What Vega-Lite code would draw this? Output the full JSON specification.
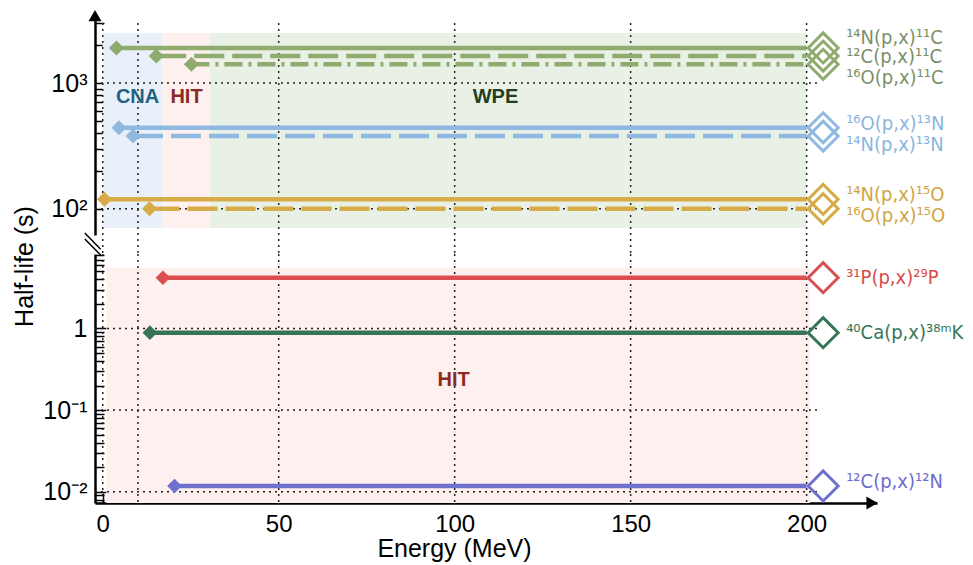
{
  "$schema": "https://vega.github.io/schema/vega-lite/v6.json",
  "width": 782,
  "height": 485,
  "autosize": {"type": "none"},
  "padding": {"left": 95, "top": 18, "right": 96, "bottom": 62},
  "background": "white",
  "config": {"view": {"stroke": null}, "font": "Liberation Sans"},
  "datasets": {
    "series": [
      {"reaction": "¹⁴N(p,x)¹¹C", "iso": "11C", "panel": "top", "E": 3.9, "E2": 200, "Emark": 204.7, "t": 1900, "style": "solid", "labelT": 2300},
      {"reaction": "¹²C(p,x)¹¹C", "iso": "11C", "panel": "top", "E": 15.2, "E2": 200, "Emark": 204.7, "t": 1640, "style": "dashed", "labelT": 1610},
      {"reaction": "¹⁶O(p,x)¹¹C", "iso": "11C", "panel": "top", "E": 25.2, "E2": 200, "Emark": 204.7, "t": 1410, "style": "dashdot", "labelT": 1105},
      {"reaction": "¹⁶O(p,x)¹³N", "iso": "13N", "panel": "top", "E": 4.6, "E2": 200, "Emark": 204.7, "t": 440, "style": "solid", "labelT": 472},
      {"reaction": "¹⁴N(p,x)¹³N", "iso": "13N", "panel": "top", "E": 8.6, "E2": 200, "Emark": 204.7, "t": 378, "style": "dashed", "labelT": 324},
      {"reaction": "¹⁴N(p,x)¹⁵O", "iso": "15O", "panel": "top", "E": 0.5, "E2": 200, "Emark": 204.7, "t": 118.6, "style": "solid", "labelT": 127.6},
      {"reaction": "¹⁶O(p,x)¹⁵O", "iso": "15O", "panel": "top", "E": 13.3, "E2": 200, "Emark": 204.7, "t": 100, "style": "dashed", "labelT": 86.8},
      {"reaction": "³¹P(p,x)²⁹P", "iso": "29P", "panel": "bottom", "E": 17.1, "E2": 200, "Emark": 204.7, "t": 4.19, "style": "solid", "labelT": 4.19},
      {"reaction": "⁴⁰Ca(p,x)³⁸ᵐK", "iso": "38mK", "panel": "bottom", "E": 13.4, "E2": 200, "Emark": 204.7, "t": 0.888, "style": "solid", "labelT": 0.888},
      {"reaction": "¹²C(p,x)¹²N", "iso": "12N", "panel": "bottom", "E": 20.4, "E2": 200, "Emark": 204.7, "t": 0.01175, "style": "solid", "labelT": 0.0133}
    ],
    "regions": [
      {"name": "CNA", "panel": "top", "E": 0, "E2": 17, "t": 70, "t2": 2500},
      {"name": "HIT", "panel": "top", "E": 17, "E2": 30.5, "t": 70, "t2": 2500},
      {"name": "WPE", "panel": "top", "E": 30.5, "E2": 200, "t": 70, "t2": 2500},
      {"name": "HIT", "panel": "bottom", "E": 1, "E2": 201, "t": 0.00727, "t2": 5.5}
    ],
    "regionLabels": [
      {"name": "CNA", "panel": "top", "E": 9.9, "t": 774},
      {"name": "HIT", "panel": "top", "E": 23.8, "t": 774},
      {"name": "WPE", "panel": "top", "E": 111.6, "t": 774},
      {"name": "HIT", "panel": "bottom", "E": 99.7, "t": 0.234}
    ],
    "hgrid": [
      {"panel": "top", "E": -2.2, "E2": 203, "t": 100},
      {"panel": "top", "E": -2.2, "E2": 203, "t": 1000},
      {"panel": "bottom", "E": -2.2, "E2": 203, "t": 1},
      {"panel": "bottom", "E": -2.2, "E2": 203, "t": 0.1},
      {"panel": "bottom", "E": -2.2, "E2": 203, "t": 0.01}
    ],
    "vgrid": [
      {"panel": "top", "E": 0, "t": 3000, "t2": 44}, {"panel": "top", "E": 10, "t": 3000, "t2": 44},
      {"panel": "top", "E": 50, "t": 3000, "t2": 44}, {"panel": "top", "E": 100, "t": 3000, "t2": 44},
      {"panel": "top", "E": 150, "t": 3000, "t2": 44}, {"panel": "top", "E": 200, "t": 3000, "t2": 44},
      {"panel": "bottom", "E": 0, "t": 8.18, "t2": 0.00727}, {"panel": "bottom", "E": 10, "t": 8.18, "t2": 0.00727},
      {"panel": "bottom", "E": 50, "t": 8.18, "t2": 0.00727}, {"panel": "bottom", "E": 100, "t": 8.18, "t2": 0.00727},
      {"panel": "bottom", "E": 150, "t": 8.18, "t2": 0.00727}, {"panel": "bottom", "E": 200, "t": 8.18, "t2": 0.00727}
    ],
    "breaks": [
      {"E": -5.1, "E2": -0.6, "t": 64, "t2": 47.6},
      {"E": -5.1, "E2": -0.6, "t": 57.3, "t2": 42.7}
    ],
    "arrows": [
      {"dir": "up", "E": -2.2, "t": 3441},
      {"dir": "right", "E": 218.6, "t": 0.00727}
    ]
  },
  "layer": [
    {
      "layer": [
        {
          "data": {"name": "regions"},
          "transform": [{"filter": "datum.panel === 'top'"}],
          "mark": {"type": "rect"},
          "encoding": {
            "x": {
              "field": "E", "type": "quantitative",
              "scale": {"domain": [-2.2, 220], "nice": false, "zero": false},
              "axis": {
                "orient": "bottom",
                "values": [10, 20, 30, 40, 60, 70, 80, 90, 110, 120, 130, 140, 160, 170, 180, 190],
                "labels": false, "domain": false, "grid": false, "title": null,
                "tickSize": -7, "tickColor": "black", "tickWidth": 1.5
              }
            },
            "x2": {"field": "E2"},
            "y": {
              "field": "t", "type": "quantitative",
              "scale": {"type": "log", "domain": [61.7, 3292], "range": [217, 0], "nice": false},
              "axis": {
                "orient": "left",
                "values": [100, 200, 300, 400, 500, 600, 700, 800, 900, 1000, 2000, 3000],
                "labelExpr": "datum.value === 100 ? '10²' : (datum.value === 1000 ? '10³' : '')",
                "tickSize": {"condition": {"test": "datum.value === 100 || datum.value === 1000", "value": -13}, "value": -9},
                "tickColor": "black", "tickWidth": 1.5,
                "domainColor": "black", "domainWidth": 2.5,
                "labelFont": "Liberation Sans", "labelFontSize": 25, "labelColor": "black",
                "labelPadding": 21, "labelOverlap": false, "labelFlush": false,
                "grid": false, "title": null
              }
            },
            "y2": {"field": "t2"},
            "fill": {"field": "name", "type": "nominal", "legend": null, "scale": {"domain": ["11C", "13N", "15O", "29P", "38mK", "12N", "CNA", "HIT", "WPE"], "range": ["#7b8f68", "#8ab5de", "#d1a544", "#d94a4a", "#367656", "#6c6ccc", "#eaf0fa", "#fdf0ee", "#e9f0e6"]}}
          }
        },
        {
          "data": {"name": "vgrid"},
          "transform": [{"filter": "datum.panel === 'top'"}],
          "mark": {"type": "rule", "strokeDash": [2, 4], "color": "#222222", "strokeWidth": 1.5},
          "encoding": {
            "x": {"field": "E", "type": "quantitative", "scale": {"domain": [-2.2, 220], "nice": false, "zero": false}},
            "y": {"field": "t", "type": "quantitative", "scale": {"type": "log", "domain": [61.7, 3292], "range": [217, 0], "nice": false}},
            "y2": {"field": "t2"}
          }
        },
        {
          "data": {"name": "hgrid"},
          "transform": [{"filter": "datum.panel === 'top'"}],
          "mark": {"type": "rule", "strokeDash": [2, 4], "color": "#222222", "strokeWidth": 1.5},
          "encoding": {
            "x": {"field": "E", "type": "quantitative", "scale": {"domain": [-2.2, 220], "nice": false, "zero": false}},
            "x2": {"field": "E2"},
            "y": {"field": "t", "type": "quantitative", "scale": {"type": "log", "domain": [61.7, 3292], "range": [217, 0], "nice": false}}
          }
        },
        {
          "data": {"name": "series"},
          "transform": [{"filter": "datum.panel === 'top'"}],
          "mark": {"type": "rule", "strokeWidth": 4.5},
          "encoding": {
            "x": {"field": "E", "type": "quantitative", "scale": {"domain": [-2.2, 220], "nice": false, "zero": false}},
            "x2": {"field": "E2"},
            "y": {"field": "t", "type": "quantitative", "scale": {"type": "log", "domain": [61.7, 3292], "range": [217, 0], "nice": false}},
            "color": {"field": "iso", "type": "nominal", "legend": null, "scale": {"domain": ["11C", "13N", "15O", "29P", "38mK", "12N", "CNA", "HIT", "WPE"], "range": ["#8fab6d", "#8fb9e1", "#d8ab49", "#db4f50", "#367656", "#7070cf", "#1f6282", "#8c2b22", "#223e20"]}},
            "strokeDash": {"field": "style", "type": "nominal", "legend": null, "scale": {"domain": ["solid", "dashed", "dashdot"], "range": [[1, 0], [30, 8], [18, 6, 3, 6]]}}
          }
        },
        {
          "data": {"name": "series"},
          "transform": [{"filter": "datum.panel === 'top'"}],
          "mark": {"type": "point", "shape": "diamond", "filled": true, "size": 225, "opacity": 1},
          "encoding": {
            "x": {"field": "E", "type": "quantitative", "scale": {"domain": [-2.2, 220], "nice": false, "zero": false}},
            "y": {"field": "t", "type": "quantitative", "scale": {"type": "log", "domain": [61.7, 3292], "range": [217, 0], "nice": false}},
            "color": {"field": "iso", "type": "nominal", "legend": null, "scale": {"domain": ["11C", "13N", "15O", "29P", "38mK", "12N", "CNA", "HIT", "WPE"], "range": ["#8fab6d", "#8fb9e1", "#d8ab49", "#db4f50", "#367656", "#7070cf", "#1f6282", "#8c2b22", "#223e20"]}}
          }
        },
        {
          "data": {"name": "series"},
          "transform": [{"filter": "datum.panel === 'top'"}],
          "mark": {"type": "point", "shape": "diamond", "filled": false, "size": 900, "strokeWidth": 3, "opacity": 1},
          "encoding": {
            "x": {"field": "Emark", "type": "quantitative", "scale": {"domain": [-2.2, 220], "nice": false, "zero": false}},
            "y": {"field": "t", "type": "quantitative", "scale": {"type": "log", "domain": [61.7, 3292], "range": [217, 0], "nice": false}},
            "color": {"field": "iso", "type": "nominal", "legend": null, "scale": {"domain": ["11C", "13N", "15O", "29P", "38mK", "12N", "CNA", "HIT", "WPE"], "range": ["#8fab6d", "#8fb9e1", "#d8ab49", "#db4f50", "#367656", "#7070cf", "#1f6282", "#8c2b22", "#223e20"]}}
          }
        },
        {
          "data": {"name": "series"},
          "transform": [{"filter": "datum.panel === 'top'"}],
          "mark": {"type": "text", "align": "left", "baseline": "middle", "dx": 23, "font": "DejaVu Sans Condensed, DejaVu Sans", "fontSize": 20},
          "encoding": {
            "x": {"field": "Emark", "type": "quantitative", "scale": {"domain": [-2.2, 220], "nice": false, "zero": false}},
            "y": {"field": "labelT", "type": "quantitative", "scale": {"type": "log", "domain": [61.7, 3292], "range": [217, 0], "nice": false}},
            "text": {"field": "reaction"},
            "fill": {"field": "iso", "type": "nominal", "legend": null, "scale": {"domain": ["11C", "13N", "15O", "29P", "38mK", "12N", "CNA", "HIT", "WPE"], "range": ["#7b8f68", "#8ab5de", "#d1a544", "#d94a4a", "#367656", "#6c6ccc", "#eaf0fa", "#fdf0ee", "#e9f0e6"]}}
          }
        },
        {
          "data": {"name": "regionLabels"},
          "transform": [{"filter": "datum.panel === 'top'"}],
          "mark": {"type": "text", "align": "center", "baseline": "middle", "font": "Liberation Sans", "fontSize": 20, "fontWeight": "bold"},
          "encoding": {
            "x": {"field": "E", "type": "quantitative", "scale": {"domain": [-2.2, 220], "nice": false, "zero": false}},
            "y": {"field": "t", "type": "quantitative", "scale": {"type": "log", "domain": [61.7, 3292], "range": [217, 0], "nice": false}},
            "text": {"field": "name"},
            "color": {"field": "name", "type": "nominal", "legend": null, "scale": {"domain": ["11C", "13N", "15O", "29P", "38mK", "12N", "CNA", "HIT", "WPE"], "range": ["#8fab6d", "#8fb9e1", "#d8ab49", "#db4f50", "#367656", "#7070cf", "#1f6282", "#8c2b22", "#223e20"]}}
          }
        },
        {
          "data": {"name": "breaks"},
          "mark": {"type": "rule", "color": "black", "strokeWidth": 1.5},
          "encoding": {
            "x": {"field": "E", "type": "quantitative", "scale": {"domain": [-2.2, 220], "nice": false, "zero": false}},
            "x2": {"field": "E2"},
            "y": {"field": "t", "type": "quantitative", "scale": {"type": "log", "domain": [61.7, 3292], "range": [217, 0], "nice": false}},
            "y2": {"field": "t2"}
          }
        },
        {
          "data": {"name": "arrows"},
          "transform": [{"filter": "datum.dir === 'up'"}],
          "mark": {"type": "point", "shape": "triangle-up", "filled": true, "color": "black", "size": 170, "opacity": 1},
          "encoding": {
            "x": {"field": "E", "type": "quantitative", "scale": {"domain": [-2.2, 220], "nice": false, "zero": false}},
            "y": {"field": "t", "type": "quantitative", "scale": {"type": "log", "domain": [61.7, 3292], "range": [217, 0], "nice": false}}
          }
        }
      ]
    },
    {
      "layer": [
        {
          "data": {"name": "regions"},
          "transform": [{"filter": "datum.panel === 'bottom'"}],
          "mark": {"type": "rect"},
          "encoding": {
            "x": {
              "field": "E", "type": "quantitative",
              "scale": {"domain": [-2.2, 220], "nice": false, "zero": false},
              "axis": {
                "orient": "bottom",
                "values": [0, 50, 100, 150, 200],
                "tickSize": -10,
                "tickColor": "black", "tickWidth": 1.5,
                "domainColor": "black", "domainWidth": 2.5,
                "labelFont": "Liberation Sans", "labelFontSize": 24, "labelColor": "black",
                "labelPadding": 19, "labelFlush": false, "labelOverlap": false,
                "grid": false,
                "title": "Energy (MeV)", "titleFont": "Liberation Sans", "titleFontSize": 25, "titleFontWeight": "normal", "titleColor": "black",
                "titleX": 359, "titleY": 45, "titleAlign": "center", "titleBaseline": "middle"
              }
            },
            "x2": {"field": "E2"},
            "y": {
              "field": "t", "type": "quantitative",
              "scale": {"type": "log", "domain": [0.00727, 8.18], "range": [485, 236], "nice": false},
              "axis": {
                "orient": "left",
                "values": [0.008, 0.009, 0.01, 0.02, 0.03, 0.04, 0.05, 0.06, 0.07, 0.08, 0.09, 0.1, 0.2, 0.3, 0.4, 0.5, 0.6, 0.7, 0.8, 0.9, 1, 2, 3, 4, 5, 6, 7, 8],
                "labelExpr": "datum.value === 1 ? '1' : (datum.value === 0.1 ? '10⁻¹' : (datum.value === 0.01 ? '10⁻²' : ''))",
                "tickSize": {"condition": {"test": "datum.value === 1 || datum.value === 0.1 || datum.value === 0.01", "value": -13}, "value": -9},
                "tickColor": "black", "tickWidth": 1.5,
                "domainColor": "black", "domainWidth": 2.5,
                "labelFont": "Liberation Sans", "labelFontSize": 25, "labelColor": "black",
                "labelPadding": 21, "labelOverlap": false, "labelFlush": false,
                "grid": false,
                "title": "Half-life (s)", "titleFont": "Liberation Sans", "titleFontSize": 25, "titleFontWeight": "normal", "titleColor": "black",
                "titleX": -71, "titleY": 248, "titleAngle": 270, "titleAlign": "center", "titleBaseline": "middle"
              }
            },
            "y2": {"field": "t2"},
            "fill": {"field": "name", "type": "nominal", "legend": null, "scale": {"domain": ["11C", "13N", "15O", "29P", "38mK", "12N", "CNA", "HIT", "WPE"], "range": ["#7b8f68", "#8ab5de", "#d1a544", "#d94a4a", "#367656", "#6c6ccc", "#eaf0fa", "#fdf0ee", "#e9f0e6"]}}
          }
        },
        {
          "data": {"name": "vgrid"},
          "transform": [{"filter": "datum.panel === 'bottom'"}],
          "mark": {"type": "rule", "strokeDash": [2, 4], "color": "#222222", "strokeWidth": 1.5},
          "encoding": {
            "x": {"field": "E", "type": "quantitative", "scale": {"domain": [-2.2, 220], "nice": false, "zero": false}},
            "y": {"field": "t", "type": "quantitative", "scale": {"type": "log", "domain": [0.00727, 8.18], "range": [485, 236], "nice": false}},
            "y2": {"field": "t2"}
          }
        },
        {
          "data": {"name": "hgrid"},
          "transform": [{"filter": "datum.panel === 'bottom'"}],
          "mark": {"type": "rule", "strokeDash": [2, 4], "color": "#222222", "strokeWidth": 1.5},
          "encoding": {
            "x": {"field": "E", "type": "quantitative", "scale": {"domain": [-2.2, 220], "nice": false, "zero": false}},
            "x2": {"field": "E2"},
            "y": {"field": "t", "type": "quantitative", "scale": {"type": "log", "domain": [0.00727, 8.18], "range": [485, 236], "nice": false}}
          }
        },
        {
          "data": {"name": "series"},
          "transform": [{"filter": "datum.panel === 'bottom'"}],
          "mark": {"type": "rule", "strokeWidth": 4.5},
          "encoding": {
            "x": {"field": "E", "type": "quantitative", "scale": {"domain": [-2.2, 220], "nice": false, "zero": false}},
            "x2": {"field": "E2"},
            "y": {"field": "t", "type": "quantitative", "scale": {"type": "log", "domain": [0.00727, 8.18], "range": [485, 236], "nice": false}},
            "color": {"field": "iso", "type": "nominal", "legend": null, "scale": {"domain": ["11C", "13N", "15O", "29P", "38mK", "12N", "CNA", "HIT", "WPE"], "range": ["#8fab6d", "#8fb9e1", "#d8ab49", "#db4f50", "#367656", "#7070cf", "#1f6282", "#8c2b22", "#223e20"]}},
            "strokeDash": {"field": "style", "type": "nominal", "legend": null, "scale": {"domain": ["solid", "dashed", "dashdot"], "range": [[1, 0], [30, 8], [18, 6, 3, 6]]}}
          }
        },
        {
          "data": {"name": "series"},
          "transform": [{"filter": "datum.panel === 'bottom'"}],
          "mark": {"type": "point", "shape": "diamond", "filled": true, "size": 215, "opacity": 1},
          "encoding": {
            "x": {"field": "E", "type": "quantitative", "scale": {"domain": [-2.2, 220], "nice": false, "zero": false}},
            "y": {"field": "t", "type": "quantitative", "scale": {"type": "log", "domain": [0.00727, 8.18], "range": [485, 236], "nice": false}},
            "color": {"field": "iso", "type": "nominal", "legend": null, "scale": {"domain": ["11C", "13N", "15O", "29P", "38mK", "12N", "CNA", "HIT", "WPE"], "range": ["#8fab6d", "#8fb9e1", "#d8ab49", "#db4f50", "#367656", "#7070cf", "#1f6282", "#8c2b22", "#223e20"]}}
          }
        },
        {
          "data": {"name": "series"},
          "transform": [{"filter": "datum.panel === 'bottom'"}],
          "mark": {"type": "point", "shape": "diamond", "filled": false, "size": 900, "strokeWidth": 3, "opacity": 1},
          "encoding": {
            "x": {"field": "Emark", "type": "quantitative", "scale": {"domain": [-2.2, 220], "nice": false, "zero": false}},
            "y": {"field": "t", "type": "quantitative", "scale": {"type": "log", "domain": [0.00727, 8.18], "range": [485, 236], "nice": false}},
            "color": {"field": "iso", "type": "nominal", "legend": null, "scale": {"domain": ["11C", "13N", "15O", "29P", "38mK", "12N", "CNA", "HIT", "WPE"], "range": ["#8fab6d", "#8fb9e1", "#d8ab49", "#db4f50", "#367656", "#7070cf", "#1f6282", "#8c2b22", "#223e20"]}}
          }
        },
        {
          "data": {"name": "series"},
          "transform": [{"filter": "datum.panel === 'bottom'"}],
          "mark": {"type": "text", "align": "left", "baseline": "middle", "dx": 23, "font": "DejaVu Sans Condensed, DejaVu Sans", "fontSize": 20},
          "encoding": {
            "x": {"field": "Emark", "type": "quantitative", "scale": {"domain": [-2.2, 220], "nice": false, "zero": false}},
            "y": {"field": "labelT", "type": "quantitative", "scale": {"type": "log", "domain": [0.00727, 8.18], "range": [485, 236], "nice": false}},
            "text": {"field": "reaction"},
            "fill": {"field": "iso", "type": "nominal", "legend": null, "scale": {"domain": ["11C", "13N", "15O", "29P", "38mK", "12N", "CNA", "HIT", "WPE"], "range": ["#7b8f68", "#8ab5de", "#d1a544", "#d94a4a", "#367656", "#6c6ccc", "#eaf0fa", "#fdf0ee", "#e9f0e6"]}}
          }
        },
        {
          "data": {"name": "regionLabels"},
          "transform": [{"filter": "datum.panel === 'bottom'"}],
          "mark": {"type": "text", "align": "center", "baseline": "middle", "font": "Liberation Sans", "fontSize": 20, "fontWeight": "bold"},
          "encoding": {
            "x": {"field": "E", "type": "quantitative", "scale": {"domain": [-2.2, 220], "nice": false, "zero": false}},
            "y": {"field": "t", "type": "quantitative", "scale": {"type": "log", "domain": [0.00727, 8.18], "range": [485, 236], "nice": false}},
            "text": {"field": "name"},
            "color": {"field": "name", "type": "nominal", "legend": null, "scale": {"domain": ["11C", "13N", "15O", "29P", "38mK", "12N", "CNA", "HIT", "WPE"], "range": ["#8fab6d", "#8fb9e1", "#d8ab49", "#db4f50", "#367656", "#7070cf", "#1f6282", "#8c2b22", "#223e20"]}}
          }
        },
        {
          "data": {"name": "arrows"},
          "transform": [{"filter": "datum.dir === 'right'"}],
          "mark": {"type": "point", "shape": "triangle-right", "filled": true, "color": "black", "size": 170, "opacity": 1},
          "encoding": {
            "x": {"field": "E", "type": "quantitative", "scale": {"domain": [-2.2, 220], "nice": false, "zero": false}},
            "y": {"field": "t", "type": "quantitative", "scale": {"type": "log", "domain": [0.00727, 8.18], "range": [485, 236], "nice": false}}
          }
        }
      ]
    }
  ],
  "resolve": {"scale": {"y": "independent"}, "axis": {"y": "independent", "x": "independent"}}
}
